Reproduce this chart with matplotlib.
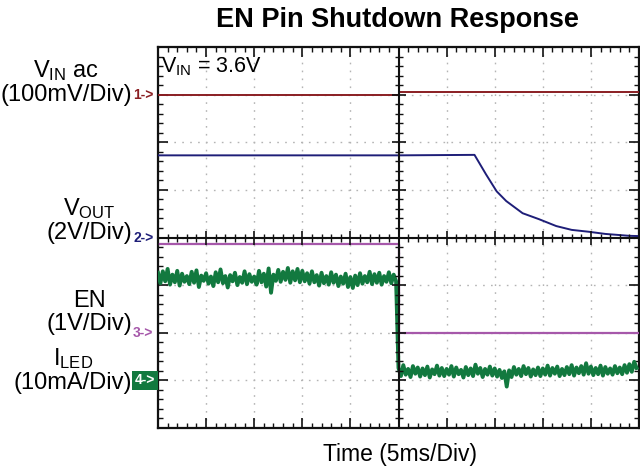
import numpy as np
import matplotlib
matplotlib.use("Agg")
import matplotlib.pyplot as plt
import matplotlib.transforms as mtransforms
from matplotlib.ticker import MultipleLocator

plt.rcParams['font.family'] = ['Liberation Sans', 'DejaVu Sans']
plt.rcParams['mathtext.fontset'] = 'custom'
plt.rcParams['mathtext.rm'] = 'Liberation Sans'
plt.rcParams['mathtext.it'] = 'Liberation Sans:italic'
plt.rcParams['mathtext.bf'] = 'Liberation Sans:bold'

# ---------------- data ----------------
title = "EN Pin Shutdown Response"
xlabel = "Time (5ms/Div)"
time_per_div = 5.0          # ms
n_xdiv, n_ydiv = 10, 8

# channel reference levels (divisions from bottom) and scales
ch_names = ["V$_{\\mathrm{IN}}$ ac\n(100mV/Div)", "V$_{\\mathrm{OUT}}$\n(2V/Div)",
            "EN\n(1V/Div)", "I$_{\\mathrm{LED}}$\n(10mA/Div)"]
ch_markers = ["1->", "2->", "3->", "4->"]
ch_ref = [7, 4, 2, 1]
ch_scale = [100.0, 2.0, 1.0, 10.0]   # units per division

# VIN ac (mV)
vin_t = [0, 25, 25, 50]
vin_v = [0, 0, 6, 6]

# VOUT (V)
vout_t = [0, 25, 32.9, 34.1, 35.2, 36.2, 37.9, 39.6, 41.4, 43.0, 44.8, 46.5, 49.0, 50]
vout_v = [3.45, 3.45, 3.47, 2.65, 1.94, 1.53, 1.02, 0.77, 0.48, 0.32, 0.24, 0.15, 0.07, 0.06]

# EN (V)
en_t = [0, 25, 25, 50]
en_v = [1.86, 1.86, 0, 0]

# ILED (mA), sampled every 0.25 ms
iled_dt = 0.25
iled_on = [22.6, 20.4, 22.9, 20.8, 23.4, 20.1, 22.2, 20.6, 23.0, 19.9, 22.4, 20.7, 21.9, 20.2, 22.8, 20.5, 23.1, 19.6, 22.0, 20.9,
           22.5, 20.3, 21.8, 19.8, 22.7, 20.6, 23.3, 20.4, 21.9, 19.5, 22.1, 20.8, 22.6, 20.0, 21.7, 20.5, 22.9, 20.2, 22.3, 20.7,
           21.8, 20.1, 23.0, 20.6, 22.4, 19.7, 23.5, 18.4, 22.2, 20.9, 23.2, 20.7, 22.8, 21.1, 23.6, 20.5, 22.9, 21.0, 23.4, 20.6,
           23.0, 20.8, 22.5, 20.3, 22.9, 20.6, 22.1, 19.9, 22.6, 20.4, 21.9, 20.1, 22.7, 20.5, 22.2, 19.8, 21.8, 20.3, 22.4, 19.6,
           21.7, 19.4, 22.0, 20.0, 22.5, 20.3, 21.9, 20.6, 22.8, 20.2, 22.3, 20.5, 22.6, 20.1, 21.9, 20.7, 22.7, 20.4, 22.2, 20.8]
iled_off = [2.6, 0.9, 3.2, 1.2, 2.4, 0.7, 3.0, 1.4, 2.7, 0.8, 2.5, 1.1, 2.9, 0.6, 2.3, 1.3, 3.1, 1.0, 2.6, 0.9,
            2.4, 1.2, 3.0, 0.8, 2.7, 1.3, 2.2, 0.6, 2.8, 1.1, 2.5, 0.9, 3.3, 1.4, 2.6, 0.7, 2.4, 1.2, 2.9, 1.0,
            2.5, 0.8, 2.2, 0.5, 1.9, -1.3, 2.1, 0.7, 2.8, 1.2, 2.4, 0.9, 3.0, 1.3, 2.6, 0.8, 2.3, 1.1, 2.7, 0.9,
            2.5, 1.2, 3.1, 1.0, 2.6, 1.4, 2.9, 0.9, 2.4, 1.1, 2.8, 1.3, 3.2, 1.0, 2.7, 1.5, 3.0, 1.2, 3.6, 1.4,
            2.9, 1.1, 2.6, 1.3, 3.1, 1.0, 2.8, 1.4, 2.5, 1.2, 3.0, 1.5, 2.7, 1.3, 3.2, 1.6, 3.4, 1.8, 3.9, 2.6]

vin_label = "V$_{\\mathrm{IN}}$ = 3.6V"

# ---------------- styling ----------------
colors = ["#8a1e22", "#1e1e78", "#a658aa", "#12793f"]

W, H = 640, 468
fig = plt.figure(figsize=(W / 100, H / 100), dpi=100)
L, R, T, B = 158, 639, 47, 428
rect = [L / W, (H - B) / H, (R - L) / W, (B - T) / H]
ax = fig.add_axes(rect)
xmax = n_xdiv * time_per_div
ax.set_xlim(0, xmax)
ax.set_ylim(0, n_ydiv)

ax.xaxis.set_major_locator(MultipleLocator(time_per_div))
ax.xaxis.set_minor_locator(MultipleLocator(time_per_div / 5))
ax.yaxis.set_major_locator(MultipleLocator(1))
ax.yaxis.set_minor_locator(MultipleLocator(0.2))
ax.tick_params(which='both', direction='in', top=True, right=True,
               labelbottom=False, labelleft=False, color='#111111')
ax.tick_params(which='major', length=7, width=1.2)
ax.tick_params(which='minor', length=3.5, width=1.0)
for s in ax.spines.values():
    s.set_linewidth(1.6)
    s.set_color('#111111')
ax.grid(which='major', linestyle=(0, (1.2, 4.5)), color='#b4b4b4', linewidth=1.0)
ax.set_axisbelow(True)

def to_div(vals, ch):
    return [ch_ref[ch] + v / ch_scale[ch] for v in vals]

ax.plot(vin_t, to_div(vin_v, 0), color=colors[0], lw=1.4, zorder=3)
ax.plot(vout_t, to_div(vout_v, 1), color=colors[1], lw=1.4, zorder=3)
ax.plot(en_t, to_div(en_v, 2), color=colors[2], lw=1.6, zorder=3)
iled_t = [i * iled_dt for i in range(len(iled_on))] + \
         [xmax / 2 + i * iled_dt for i in range(len(iled_off))]
ax.plot(iled_t, to_div(iled_on + iled_off, 3), color=colors[3], lw=2.8, zorder=3)

ax.text(0.3, 7.58, vin_label, fontsize=15.5, va='center', ha='left', color='black', zorder=5)

# centre crosshair with tick marks
ax2 = fig.add_axes(rect)
ax2.set_xlim(0, xmax)
ax2.set_ylim(0, n_ydiv)
ax2.patch.set_visible(False)
ax2.spines['left'].set_position(('data', xmax / 2))
ax2.spines['bottom'].set_position(('data', n_ydiv / 2))
ax2.spines['top'].set_visible(False)
ax2.spines['right'].set_visible(False)
for s in ('left', 'bottom'):
    ax2.spines[s].set_linewidth(1.5)
    ax2.spines[s].set_color('#111111')
ax2.xaxis.set_major_locator(MultipleLocator(time_per_div))
ax2.xaxis.set_minor_locator(MultipleLocator(time_per_div / 5))
ax2.yaxis.set_major_locator(MultipleLocator(1))
ax2.yaxis.set_minor_locator(MultipleLocator(0.2))
ax2.tick_params(which='both', direction='inout', labelbottom=False, labelleft=False, color='#111111')
ax2.tick_params(which='major', length=10, width=1.2)
ax2.tick_params(which='minor', length=6, width=1.0)

# channel labels and markers
trans = mtransforms.blended_transform_factory(fig.transFigure, ax.transData)
label_y = [7.26, 4.37, 2.42, 1.22]
for i in range(4):
    fig.text(132 / W, label_y[i], ch_names[i], transform=trans, fontsize=17,
             ha='right', va='center', ma='center', linespacing=1.08, color='black')
    if i == 3:
        fig.text(135 / W, ch_ref[i], ch_markers[i], transform=trans, fontsize=10,
                 ha='left', va='center', color='white', fontweight='bold',
                 bbox=dict(boxstyle='square,pad=0.2', fc=colors[3], ec='none'))
    else:
        fig.text(133 / W, ch_ref[i], ch_markers[i], transform=trans, fontsize=10,
                 ha='left', va='center', color=colors[i], fontweight='bold')

fig.text(397 / W, 1 - 20 / H, title, fontsize=19.5, fontweight='bold', ha='center', va='center')
fig.text(400 / W, 1 - 455 / H, xlabel, fontsize=16.5, ha='center', va='center')

fig.savefig("out.png", dpi=100)
